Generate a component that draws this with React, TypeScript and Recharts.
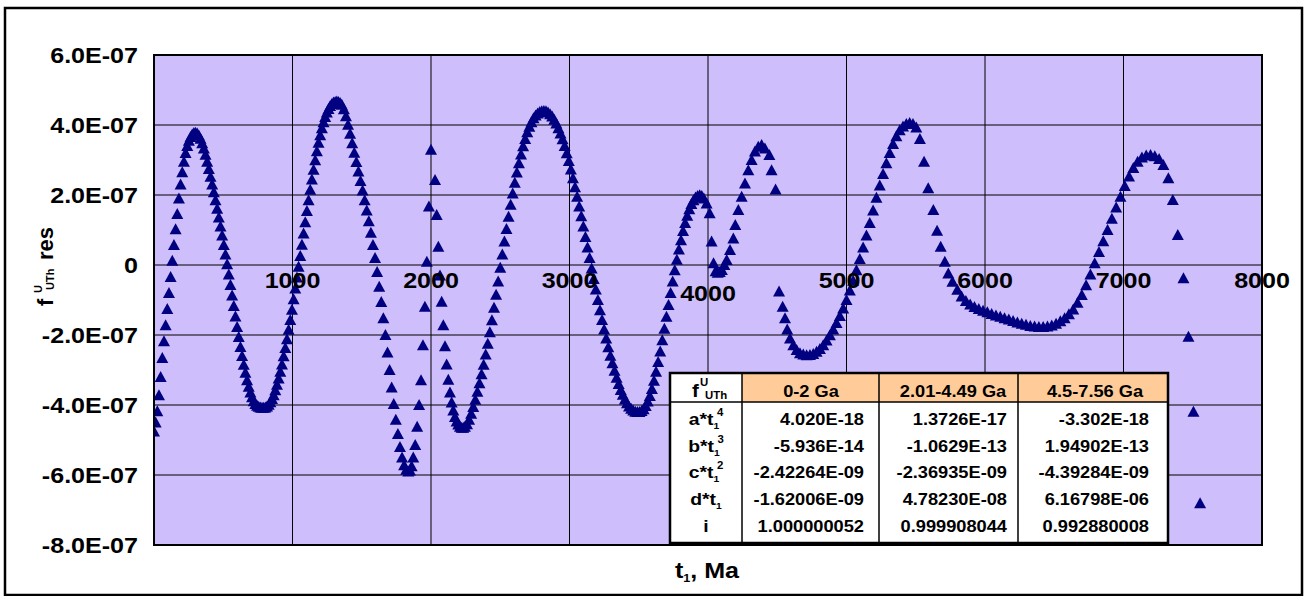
import React from 'react';
import { ScatterChart, Scatter, XAxis, YAxis, CartesianGrid } from 'recharts';

// ---------- data (f values in units of 1E-07) ----------
const seg1T = [
  0, 12, 24, 36, 48, 60, 72, 84, 96, 108,
  120, 132, 144, 156, 168, 180, 192, 204, 216, 228,
  240, 252, 264, 276, 288, 300, 312, 324, 336, 348,
  360, 372, 384, 396, 408, 420, 432, 444, 456, 468,
  480, 492, 504, 516, 528, 540, 552, 564, 576, 588,
  600, 612, 624, 636, 648, 660, 672, 684, 696, 708,
  720, 732, 744, 756, 768, 780, 792, 804, 816, 828,
  840, 852, 864, 876, 888, 900, 912, 924, 936, 948,
  960, 972, 984, 996, 1008, 1020, 1032, 1044, 1056, 1068,
  1080, 1092, 1104, 1116, 1128, 1140, 1152, 1164, 1176, 1188,
  1200, 1212, 1224, 1236, 1248, 1260, 1272, 1284, 1296, 1308,
  1320, 1332, 1344, 1356, 1371, 1386, 1401, 1416, 1431, 1446,
  1461, 1476, 1491, 1506, 1521, 1536, 1551, 1566, 1581, 1596,
  1611, 1626, 1641, 1656, 1671, 1686, 1701, 1716, 1731, 1746,
  1761, 1776, 1791, 1806, 1821, 1836, 1848, 1860, 1872, 1886,
  1900, 1914, 1928, 1942, 1956, 1970, 1985, 2000,
];
const seg1F = [
  -4.76, -4.5, -4.18, -3.72, -3.2, -2.66, -2.18, -1.72, -1.26, -0.8,
  -0.34, 0.12, 0.57, 1.02, 1.46, 1.9, 2.3, 2.65, 2.95, 3.2,
  3.4, 3.55, 3.66, 3.73, 3.77, 3.78, 3.76, 3.7, 3.61, 3.48,
  3.33, 3.15, 2.95, 2.74, 2.52, 2.3, 2.08, 1.85, 1.61, 1.36,
  1.1, 0.84, 0.57, 0.3, 0.02, -0.27, -0.57, -0.87, -1.17, -1.47,
  -1.77, -2.06, -2.34, -2.6, -2.85, -3.08, -3.29, -3.48, -3.64, -3.78,
  -3.89, -3.97, -4.02, -4.05, -4.07, -4.08, -4.08, -4.07, -4.04, -3.99,
  -3.92, -3.83, -3.72, -3.58, -3.42, -3.24, -3.05, -2.84, -2.61, -2.37,
  -2.12, -1.85, -1.57, -1.28, -0.98, -0.67, -0.36, -0.05, 0.26, 0.58,
  0.9, 1.22, 1.54, 1.85, 2.15, 2.44, 2.72, 2.99, 3.25, 3.49,
  3.71, 3.91, 4.08, 4.23, 4.36, 4.46, 4.54, 4.6, 4.64, 4.66,
  4.67, 4.66, 4.63, 4.58, 4.45, 4.25, 4.01, 3.75, 3.48, 3.21,
  2.94, 2.67, 2.4, 2.13, 1.85, 1.56, 1.25, 0.92, 0.57, 0.2,
  -0.2, -0.62, -1.06, -1.52, -2.0, -2.5, -3.0, -3.5, -3.97, -4.42,
  -4.83, -5.2, -5.5, -5.72, -5.85, -5.9, -5.87, -5.75, -5.5, -5.14,
  -4.62, -4.0, -3.29, -2.29, -1.19, 0.09, 1.67, 3.29,
];

const seg2T = [
  2029, 2041, 2053, 2065, 2077, 2089, 2101, 2113, 2125, 2137,
  2149, 2161, 2173, 2185, 2197, 2209, 2221, 2233, 2245, 2260,
  2275, 2290, 2305, 2320, 2335, 2350, 2365, 2380, 2395, 2410,
  2425, 2440, 2455, 2470, 2485, 2500, 2515, 2530, 2545, 2560,
  2575, 2590, 2605, 2620, 2635, 2650, 2665, 2680, 2695, 2710,
  2725, 2740, 2755, 2770, 2785, 2800, 2815, 2830, 2845, 2860,
  2875, 2890, 2905, 2920, 2935, 2950, 2965, 2980, 2995, 3010,
  3025, 3040, 3055, 3070, 3085, 3100, 3115, 3130, 3145, 3160,
  3175, 3190, 3205, 3220, 3235, 3250, 3265, 3280, 3295, 3310,
  3325, 3340, 3355, 3370, 3385, 3400, 3415, 3430, 3445, 3460,
  3475, 3490, 3505, 3520, 3535, 3550, 3565, 3580, 3595, 3610,
  3625, 3640, 3655, 3670, 3685, 3700, 3715, 3730, 3745, 3760,
  3775, 3790, 3805, 3820, 3835, 3850, 3865, 3880, 3895, 3910,
  3925, 3940, 3955, 3970, 3990, 4012, 4026, 4040, 4055, 4070,
  4085, 4100, 4118, 4135, 4159, 4183, 4197, 4219, 4243, 4267,
  4291, 4315, 4339, 4363, 4387, 4411, 4443, 4459, 4488,
];
const seg2F = [
  2.43, 1.43, 0.52, -0.3, -1.05, -1.72, -2.32, -2.84, -3.28, -3.64,
  -3.93, -4.16, -4.34, -4.47, -4.56, -4.62, -4.65, -4.65, -4.62, -4.55,
  -4.42, -4.25, -4.06, -3.85, -3.62, -3.38, -3.12, -2.85, -2.56, -2.25,
  -1.92, -1.58, -1.22, -0.85, -0.47, -0.08, 0.3, 0.67, 1.03, 1.38,
  1.72, 2.04, 2.35, 2.64, 2.91, 3.16, 3.39, 3.6, 3.79, 3.95,
  4.08, 4.19, 4.27, 4.33, 4.37, 4.39, 4.4, 4.39, 4.36, 4.31,
  4.24, 4.15, 4.04, 3.91, 3.76, 3.59, 3.4, 3.19, 2.97, 2.73,
  2.48, 2.22, 1.95, 1.67, 1.39, 1.1, 0.8, 0.5, 0.2, -0.1,
  -0.4, -0.7, -1.0, -1.29, -1.57, -1.84, -2.1, -2.35, -2.59, -2.81,
  -3.02, -3.22, -3.4, -3.57, -3.71, -3.84, -3.95, -4.04, -4.11, -4.16,
  -4.19, -4.2, -4.2, -4.17, -4.12, -4.03, -3.9, -3.74, -3.54, -3.31,
  -3.05, -2.77, -2.47, -2.15, -1.82, -1.48, -1.14, -0.8, -0.47, -0.15,
  0.15, 0.44, 0.71, 0.97, 1.2, 1.41, 1.59, 1.74, 1.85, 1.93,
  1.97, 1.99, 1.97, 1.9, 1.76, 1.48, 0.67, 0.05, -0.18, -0.22,
  -0.2, -0.14, 0.0, 0.14, 0.43, 0.76, 1.14, 1.57, 1.95, 2.33,
  2.71, 3.0, 3.24, 3.38, 3.43, 3.33, 3.14, 2.71, 2.16,
];

const seg3T = [
  4513, 4539, 4556, 4572, 4592, 4616, 4640, 4664, 4688, 4712,
  4736, 4760, 4784, 4808, 4832, 4856, 4880, 4904, 4928, 4952,
  4976, 5000, 5024, 5048, 5072, 5096, 5120, 5144, 5168, 5192,
  5216, 5240, 5264, 5288, 5312, 5336, 5360, 5384, 5408, 5432,
  5456, 5480, 5504, 5530, 5560, 5590, 5627, 5654, 5680, 5710,
  5735, 5765, 5800, 5831, 5862, 5893, 5924, 5955, 5986, 6017,
  6048, 6079, 6110, 6141, 6172, 6203, 6234, 6265, 6296, 6327,
  6358, 6389, 6420, 6451, 6482, 6513, 6544, 6575, 6606, 6637,
  6668, 6699, 6730, 6761, 6792, 6823, 6854, 6885, 6916, 6947,
  6978, 7009, 7040, 7071, 7102, 7133, 7164, 7195, 7226, 7257,
  7288, 7324, 7356, 7392, 7433, 7469, 7505, 7553,
];
const seg3F = [
  -0.76, -1.19, -1.52, -1.84, -2.1, -2.29, -2.43, -2.52, -2.56, -2.58,
  -2.57, -2.54, -2.48, -2.4, -2.29, -2.16, -2.01, -1.84, -1.66, -1.46,
  -1.24, -1.0, -0.73, -0.45, -0.15, 0.17, 0.5, 0.84, 1.2, 1.56,
  1.92, 2.27, 2.6, 2.91, 3.2, 3.46, 3.68, 3.85, 3.96, 4.03,
  4.06, 4.03, 3.93, 3.6, 2.95, 2.19, 1.57, 0.98, 0.52, 0.09,
  -0.24, -0.48, -0.71, -0.9, -1.03, -1.13, -1.2, -1.26, -1.31, -1.35,
  -1.4, -1.44, -1.48, -1.52, -1.56, -1.6, -1.64, -1.68, -1.71, -1.74,
  -1.76, -1.77, -1.77, -1.76, -1.73, -1.68, -1.61, -1.52, -1.41, -1.27,
  -1.08, -0.86, -0.58, -0.27, 0.05, 0.37, 0.68, 1.0, 1.32, 1.64,
  1.95, 2.26, 2.53, 2.77, 2.95, 3.07, 3.13, 3.14, 3.11, 3.03,
  2.86, 2.48, 1.86, 0.86, -0.38, -2.05, -4.19, -6.81,
];

const xTicks = [0, 1000, 2000, 3000, 4000, 5000, 6000, 7000, 8000];
const xTickLabels = ['', '1000', '2000', '3000', '4000', '5000', '6000', '7000', '8000'];
const yTicks = [-8, -6, -4, -2, 0, 2, 4, 6];
const yTickLabels = ['-8.0E-07', '-6.0E-07', '-4.0E-07', '-2.0E-07', '0', '2.0E-07', '4.0E-07', '6.0E-07'];

const tableHeaders = ['0-2 Ga', '2.01-4.49 Ga', '4.5-7.56 Ga'];
const tableRowBases = ['a*t', 'b*t', 'c*t', 'd*t', 'i'];
const tableRowSubs = ['1', '1', '1', '1', ''];
const tableRowSups = ['4', '3', '2', '', ''];
const tableCol1 = ['4.020E-18', '-5.936E-14', '-2.42264E-09', '-1.62006E-09', '1.000000052'];
const tableCol2 = ['1.3726E-17', '-1.0629E-13', '-2.36935E-09', '4.78230E-08', '0.999908044'];
const tableCol3 = ['-3.302E-18', '1.94902E-13', '-4.39284E-09', '6.16798E-06', '0.992880008'];

// ---------- layout / style ----------
const CHART_W = 1307;
const CHART_H = 596;
const PLOT_L = 154;
const PLOT_T = 55;
const PLOT_R = 1262;
const PLOT_B = 545;
const Y_MIN = -8;
const Y_MAX = 6;
const SX = 1.14;
const FONT = '"Liberation Sans", Arial, Helvetica, sans-serif';
const NAVY = '#000080';
const PLOT_BG = '#CEBEFB';
const HEADER_BG = '#FFCC99';

const zeroY = PLOT_T + (Y_MAX / (Y_MAX - Y_MIN)) * (PLOT_B - PLOT_T);

function zip(ts: number[], fs: number[]) {
  const n = Math.min(ts.length, fs.length);
  const out: { t: number; f: number }[] = [];
  for (let i = 0; i < n; i++) out.push({ t: ts[i], f: fs[i] });
  return out;
}
const seg1Data = zip(seg1T, seg1F);
const seg2Data = zip(seg2T, seg2F);
const seg3Data = zip(seg3T, seg3F);

const STxt = ({ x, y, size, anchor = 'start', children }: any) => (
  <g transform={`translate(${x},${y}) scale(${SX},1)`}>
    <text x={0} y={0} fontFamily={FONT} fontWeight={700} fontSize={size} textAnchor={anchor} fill="#000">
      {children}
    </text>
  </g>
);

const Tri = (props: any) => {
  const { cx, cy } = props;
  if (cx == null || cy == null) return <g />;
  return <path d={`M${cx},${cy - 6}L${cx + 6},${cy + 5}L${cx - 6},${cy + 5}Z`} fill={NAVY} />;
};

const XTick = (props: any) => {
  const { x, payload } = props;
  const v = payload ? payload.value : undefined;
  const idx = xTicks.indexOf(v);
  const label = xTickLabels[idx];
  if (!label) return <g />;
  const base = zeroY + (v === 4000 ? 36 : 23);
  return <STxt x={x} y={base} size={22} anchor="middle">{label}</STxt>;
};

const YTick = (props: any) => {
  const { y, payload } = props;
  const v = payload ? payload.value : undefined;
  const idx = yTicks.indexOf(v);
  const label = yTickLabels[idx];
  if (label == null) return <g />;
  return <STxt x={PLOT_L - 16} y={y + 8} size={22} anchor="end">{label}</STxt>;
};

const TBL_L = 670;
const TBL_T = 373;
const TBL_R = 1168;
const TBL_B = 543;
const TBL_HDR_B = 402;
const colEdges = [670, 742, 879, 1018, 1168];
const headerCenters = [811, 953, 1095];
const valueRights = [864, 1007, 1149];
const rowBaseline = (i: number) => 425 + i * 26.7;

const Overlay = () => (
  <svg width={CHART_W} height={CHART_H} style={{ position: 'absolute', left: 0, top: 0, pointerEvents: 'none' }}>
    {/* plot border */}
    <rect x={PLOT_L} y={PLOT_T} width={PLOT_R - PLOT_L} height={PLOT_B - PLOT_T} fill="none" stroke="#000" strokeWidth={2} />
    {/* outer chart border */}
    <rect x={5} y={8} width={1297} height={587} fill="none" stroke="#000" strokeWidth={2.5} />

    {/* y axis title */}
    <g transform={`translate(53,306) rotate(-90)`} fontFamily={FONT} fontWeight={700} fill="#000">
      <text x={0} y={0} fontSize={22}>f</text>
      <text x={13} y={-11} fontSize={11}>U</text>
      <text x={16} y={1} fontSize={11}>UTh</text>
      <text x={46} y={0} fontSize={22}>res</text>
    </g>

    {/* x axis title */}
    <STxt x={707} y={578} size={22} anchor="middle">
      t<tspan fontSize={11} dy={4}>1</tspan><tspan dy={-4}>, Ma</tspan>
    </STxt>

    {/* table */}
    <rect x={TBL_L} y={TBL_T} width={TBL_R - TBL_L} height={TBL_B - TBL_T} fill="#fff" />
    <rect x={colEdges[1]} y={TBL_T} width={colEdges[4] - colEdges[1]} height={TBL_HDR_B - TBL_T} fill={HEADER_BG} />
    {colEdges.slice(1, 4).map((cx, i) => (
      <line key={'v' + i} x1={cx} y1={TBL_T} x2={cx} y2={TBL_B} stroke="#000" strokeWidth={1.5} />
    ))}
    <line x1={TBL_L} y1={TBL_HDR_B} x2={TBL_R} y2={TBL_HDR_B} stroke="#000" strokeWidth={1.5} />
    <rect x={TBL_L} y={TBL_T} width={TBL_R - TBL_L} height={TBL_B - TBL_T} fill="none" stroke="#000" strokeWidth={2.5} />

    {/* header */}
    <STxt x={692} y={397} size={18}>f</STxt>
    <STxt x={700} y={386} size={10}>U</STxt>
    <STxt x={705} y={399} size={10}>UTh</STxt>
    {tableHeaders.map((h, i) => (
      <STxt key={'h' + i} x={headerCenters[i]} y={397} size={16} anchor="middle">{h}</STxt>
    ))}

    {/* rows */}
    {tableRowBases.map((b, i) => (
      <STxt key={'r' + i} x={706} y={rowBaseline(i)} size={17} anchor="middle">
        {b}
        {tableRowSubs[i] ? <tspan fontSize={9} dy={4}>{tableRowSubs[i]}</tspan> : null}
        {tableRowSups[i] ? <tspan fontSize={10} dx={-2} dy={-13}>{tableRowSups[i]}</tspan> : null}
      </STxt>
    ))}
    {[tableCol1, tableCol2, tableCol3].map((col, c) =>
      col.map((v, i) => (
        <STxt key={'c' + c + '-' + i} x={valueRights[c]} y={rowBaseline(i)} size={16} anchor="end">{v}</STxt>
      ))
    )}
  </svg>
);

export default function App() {
  return (
    <div style={{ position: 'absolute', left: 0, top: 0, width: CHART_W, height: CHART_H, background: '#fff', overflow: 'hidden' }}>
      <ScatterChart
        width={CHART_W}
        height={CHART_H}
        margin={{ top: PLOT_T, right: CHART_W - PLOT_R, bottom: 0, left: 0 }}
      >
        <CartesianGrid stroke="#000" strokeWidth={1} fill={PLOT_BG} fillOpacity={1} />
        <XAxis
          type="number"
          dataKey="t"
          domain={[0, 8000]}
          ticks={xTicks}
          interval={0}
          height={CHART_H - PLOT_B}
          axisLine={false}
          tickLine={false}
          tick={XTick}
          allowDataOverflow
        />
        <YAxis
          type="number"
          dataKey="f"
          domain={[Y_MIN, Y_MAX]}
          ticks={yTicks}
          interval={0}
          width={PLOT_L}
          axisLine={false}
          tickLine={false}
          tick={YTick}
          allowDataOverflow
        />
        <Scatter data={seg1Data} shape={Tri} fill={NAVY} isAnimationActive={false} />
        <Scatter data={seg2Data} shape={Tri} fill={NAVY} isAnimationActive={false} />
        <Scatter data={seg3Data} shape={Tri} fill={NAVY} isAnimationActive={false} />
      </ScatterChart>
      <Overlay />
    </div>
  );
}
